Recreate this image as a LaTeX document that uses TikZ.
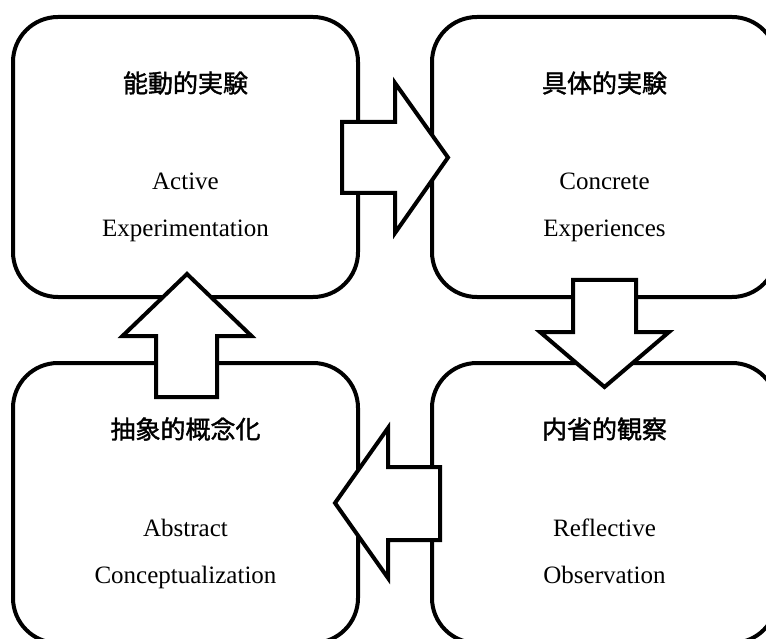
\documentclass[tikz,border=0pt]{standalone}
\usepackage{fontspec}
\setmainfont{Liberation Serif}
\newfontfamily\cjk{Noto Sans CJK JP}[FakeBold=1.6]
\usetikzlibrary{calc}
\begin{document}
\begin{tikzpicture}[x=1pt,y=-1pt,
  box/.style={draw=black,line width=4pt,rounded corners=45pt,fill=white,
    minimum width=345pt,minimum height=280pt,inner sep=0pt},
  blockarrow/.style={draw=black,line width=4pt,fill=white,miter limit=10},
  head/.style={font=\cjk\fontsize{25}{29}\selectfont,inner sep=0pt},
  eng/.style={font=\fontsize{25}{29}\selectfont,inner sep=0pt,anchor=base}]
\clip (0,0) rectangle (766,639);
\fill[white] (0,0) rectangle (766,639);
% boxes
\node[box] (ae) at (185.5,157) {};
\node[box] (ce) at (604.5,157) {};
\node[box] (ro) at (604.5,503) {};
\node[box] (ac) at (185.5,503) {};
% texts
\node[head] (aeh) at ($(ae.north)+(0,68)$) {能動的実験};
\node[eng]  (ae1) at ($(ae.north)+(0,175)$) {Active};
\node[eng]  (ae2) at ($(ae.north)+(0,222)$) {Experimentation};
\node[head] (ceh) at ($(ce.north)+(0,68)$) {具体的実験};
\node[eng]  (ce1) at ($(ce.north)+(0,175)$) {Concrete};
\node[eng]  (ce2) at ($(ce.north)+(0,222)$) {Experiences};
\node[head] (roh) at ($(ro.north)+(0,68)$) {内省的観察};
\node[eng]  (ro1) at ($(ro.north)+(0,175)$) {Reflective};
\node[eng]  (ro2) at ($(ro.north)+(0,222)$) {Observation};
\node[head] (ach) at ($(ac.north)+(0,68)$) {抽象的概念化};
\node[eng]  (ac1) at ($(ac.north)+(0,175)$) {Abstract};
\node[eng]  (ac2) at ($(ac.north)+(0,222)$) {Conceptualization};
% block arrows
% right arrow: ae -> ce
\draw[blockarrow] (342,122) -- (395,122) -- (395,83) -- (448,157.5) -- (395,233)
  -- (395,193) -- (342,193) -- cycle;
% down arrow: ce -> ro
\draw[blockarrow] (573,280) -- (636,280) -- (636,332) -- (669,332) -- (604.5,387)
  -- (540,332) -- (573,332) -- cycle;
% left arrow: ro -> ac
\draw[blockarrow] (440,467) -- (440,540) -- (388,540) -- (388,578) -- (335,503)
  -- (388,428) -- (388,467) -- cycle;
% up arrow: ac -> ae
\draw[blockarrow] (156,397) -- (217,397) -- (217,336) -- (251.5,336) -- (187,274)
  -- (122.5,336) -- (156,336) -- cycle;
\end{tikzpicture}
\end{document}
